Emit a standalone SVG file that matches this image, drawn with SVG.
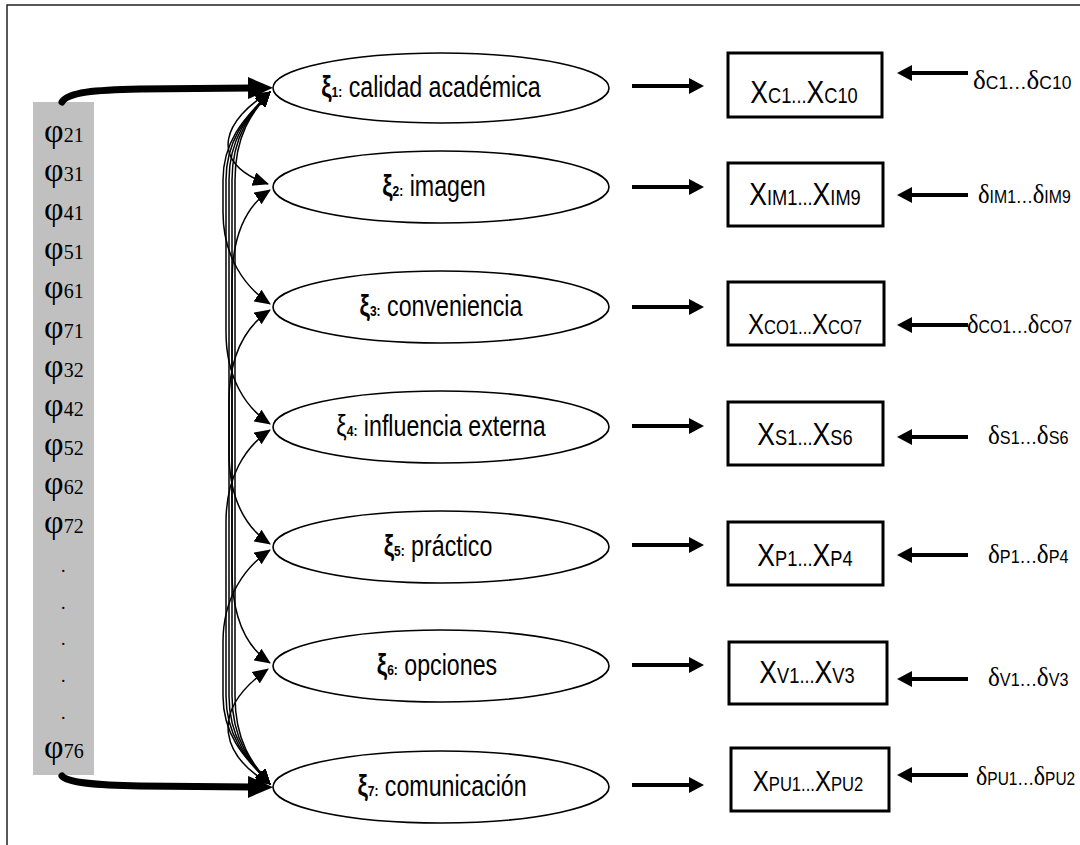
<svg xmlns="http://www.w3.org/2000/svg" width="1080" height="845" viewBox="0 0 1080 845">
<style>
.frame{fill:none;stroke:#222;stroke-width:1.5}
.gray{fill:#c0c0c0}
.ell{fill:#fff;stroke:#000;stroke-width:1.6}
.box{fill:#fff;stroke:#000;stroke-width:3}
.lbl{font-family:"Liberation Sans",Arial,sans-serif;font-size:29px;fill:#000}
.xi{font-weight:bold;font-size:29px}
.xin{font-size:29px}
.xs{font-weight:bold;font-size:15px}
.bx{font-family:"Liberation Sans",Arial,sans-serif;font-size:32px;fill:#000}
.bs{font-size:22px}
.bx2{font-size:29px}
.bs2{font-size:20px}
.del{font-family:"Liberation Serif","Times New Roman",serif;font-size:28px;fill:#000}
.ds{font-family:"Liberation Sans",Arial,sans-serif;font-size:18px}
.dd{font-size:19px}
.phi{font-family:"Liberation Serif","Times New Roman",serif;font-size:34px;fill:#000}
.pd{font-size:20px}
.dot{font-family:"Liberation Serif",serif;font-size:18px;fill:#000}
.curve{fill:none;stroke:#000;stroke-width:1.5;marker-start:url(#ah);marker-end:url(#ah)}
.thick{fill:none;stroke:#000;stroke-width:7;stroke-linecap:round;marker-end:url(#big)}
.arr{fill:none;stroke:#000;stroke-width:4;marker-end:url(#sa)}
</style>
<defs>
<marker id="ah" viewBox="0 0 16 14" refX="15" refY="7" markerWidth="16" markerHeight="14" markerUnits="userSpaceOnUse" orient="auto-start-reverse"><path d="M0,0 L16,7 L0,14 z" fill="#000"/></marker>
<marker id="big" viewBox="0 0 25 22" refX="4" refY="11" markerWidth="25" markerHeight="22" markerUnits="userSpaceOnUse" orient="auto"><path d="M0,0 L25,11 L0,22 z" fill="#000"/></marker>
<marker id="sa" viewBox="0 0 15 16" refX="3" refY="8" markerWidth="15" markerHeight="16" markerUnits="userSpaceOnUse" orient="auto"><path d="M0,0 L15,8 L0,16 z" fill="#000"/></marker>
</defs>
<path class="frame" d="M7,845 V5 H1080"/>

<g id="phi-list">
<rect class="gray" x="33" y="102" width="61" height="673"/>
<text class="phi" x="44" y="142">φ<tspan class="pd">21</tspan></text>
<text class="phi" x="44" y="181">φ<tspan class="pd">31</tspan></text>
<text class="phi" x="44" y="220">φ<tspan class="pd">41</tspan></text>
<text class="phi" x="44" y="259">φ<tspan class="pd">51</tspan></text>
<text class="phi" x="44" y="298">φ<tspan class="pd">61</tspan></text>
<text class="phi" x="44" y="338">φ<tspan class="pd">71</tspan></text>
<text class="phi" x="44" y="377">φ<tspan class="pd">32</tspan></text>
<text class="phi" x="44" y="416">φ<tspan class="pd">42</tspan></text>
<text class="phi" x="44" y="455">φ<tspan class="pd">52</tspan></text>
<text class="phi" x="44" y="494">φ<tspan class="pd">62</tspan></text>
<text class="phi" x="44" y="533">φ<tspan class="pd">72</tspan></text>
<text class="dot" x="61" y="572">.</text>
<text class="dot" x="61" y="609">.</text>
<text class="dot" x="61" y="645">.</text>
<text class="dot" x="61" y="682">.</text>
<text class="dot" x="61" y="719">.</text>
<text class="phi" x="44" y="758">φ<tspan class="pd">76</tspan></text>
</g>

<g id="connectors">
<path class="thick" d="M62,102 C68,92 95,90 140,89 L252,88"/>
<path class="thick" d="M62,776 C68,783 95,785 140,786 L252,787"/>
<path class="curve" d="M270,92 C225,118 205,162 268,184"/>
<path class="curve" d="M270,92 C252,112 223,135 223,180 L223,212 C223,257 245,287 270,304"/>
<path class="curve" d="M270,92 C252,112 226,135 226,180 L226,332 C226,377 245,407 270,424"/>
<path class="curve" d="M270,92 C252,112 229,135 229,180 L229,452 C229,497 245,527 270,544"/>
<path class="curve" d="M270,92 C252,112 232,135 232,180 L232,571 C232,616 245,646 270,663"/>
<path class="curve" d="M270,92 C252,112 235,135 235,180 L235,696 C235,741 252,764 270,784"/>
<path class="curve" d="M270,784 C225,758 205,714 268,669"/>
<path class="curve" d="M270,784 C252,764 223,741 223,696 L223,642 C223,597 245,567 270,550"/>
<path class="curve" d="M270,784 C252,764 226,741 226,696 L226,522 C226,477 245,447 270,430"/>
<path class="curve" d="M270,784 C252,764 229,741 229,696 L229,402 C229,357 245,327 270,310"/>
<path class="curve" d="M270,784 C252,764 232,741 232,696 L232,282 C232,237 245,207 270,190"/>
<path class="arr" d="M632,86 H692"/>
<path class="arr" d="M632,187 H692"/>
<path class="arr" d="M632,307 H692"/>
<path class="arr" d="M632,426 H692"/>
<path class="arr" d="M632,545 H692"/>
<path class="arr" d="M632,665 H692"/>
<path class="arr" d="M632,785 H692"/>
<path class="arr" d="M968,73 H909"/>
<path class="arr" d="M968,195 H909"/>
<path class="arr" d="M968,325 H909"/>
<path class="arr" d="M968,437 H909"/>
<path class="arr" d="M968,555 H909"/>
<path class="arr" d="M968,679 H909"/>
<path class="arr" d="M968,775 H909"/>
</g>

<g id="xi1"><ellipse class="ell" cx="441" cy="88" rx="168" ry="35"/>
<text class="lbl" transform="translate(431,97) scale(0.8 1)" text-anchor="middle"><tspan class="xi">ξ</tspan><tspan class="xs">1:</tspan> calidad académica</text></g>
<g id="xi2"><ellipse class="ell" cx="441" cy="187" rx="168" ry="36"/>
<text class="lbl" transform="translate(434,196) scale(0.8 1)" text-anchor="middle"><tspan class="xi">ξ</tspan><tspan class="xs">2:</tspan> imagen</text></g>
<g id="xi3"><ellipse class="ell" cx="441" cy="307" rx="168" ry="36"/>
<text class="lbl" transform="translate(441,316) scale(0.8 1)" text-anchor="middle"><tspan class="xi">ξ</tspan><tspan class="xs">3:</tspan> conveniencia</text></g>
<g id="xi4"><ellipse class="ell" cx="441" cy="427" rx="168" ry="36"/>
<text class="lbl" transform="translate(441,436) scale(0.8 1)" text-anchor="middle"><tspan class="xin">ξ</tspan><tspan class="xs">4:</tspan> influencia externa</text></g>
<g id="xi5"><ellipse class="ell" cx="441" cy="547" rx="168" ry="36"/>
<text class="lbl" transform="translate(438,556) scale(0.8 1)" text-anchor="middle"><tspan class="xi">ξ</tspan><tspan class="xs">5:</tspan> práctico</text></g>
<g id="xi6"><ellipse class="ell" cx="441" cy="666" rx="168" ry="36"/>
<text class="lbl" transform="translate(437,675) scale(0.8 1)" text-anchor="middle"><tspan class="xi">ξ</tspan><tspan class="xs">6:</tspan> opciones</text></g>
<g id="xi7"><ellipse class="ell" cx="441" cy="787" rx="168" ry="36"/>
<text class="lbl" transform="translate(442,796) scale(0.8 1)" text-anchor="middle"><tspan class="xi">ξ</tspan><tspan class="xs">7:</tspan> comunicación</text></g>

<g id="x1"><rect class="box" x="728" y="53" width="154" height="64"/>
<text class="bx" transform="translate(804,103) scale(0.83 1)" text-anchor="middle">X<tspan class="bs">C1...</tspan>X<tspan class="bs">C10</tspan></text></g>
<g id="x2"><rect class="box" x="728" y="163" width="155" height="63"/>
<text class="bx" transform="translate(805,205) scale(0.83 1)" text-anchor="middle">X<tspan class="bs">IM1...</tspan>X<tspan class="bs">IM9</tspan></text></g>
<g id="x3"><rect class="box" x="728" y="282" width="156" height="63"/>
<text class="bx bx2" transform="translate(805,334) scale(0.83 1)" text-anchor="middle">X<tspan class="bs2">CO1...</tspan>X<tspan class="bs2">CO7</tspan></text></g>
<g id="x4"><rect class="box" x="728" y="402" width="155" height="63"/>
<text class="bx" transform="translate(805,445) scale(0.83 1)" text-anchor="middle">X<tspan class="bs">S1...</tspan>X<tspan class="bs">S6</tspan></text></g>
<g id="x5"><rect class="box" x="728" y="522" width="155" height="63"/>
<text class="bx" transform="translate(805,566) scale(0.83 1)" text-anchor="middle">X<tspan class="bs">P1...</tspan>X<tspan class="bs">P4</tspan></text></g>
<g id="x6"><rect class="box" x="729" y="642" width="158" height="62"/>
<text class="bx" transform="translate(807,683) scale(0.83 1)" text-anchor="middle">X<tspan class="bs">V1...</tspan>X<tspan class="bs">V3</tspan></text></g>
<g id="x7"><rect class="box" x="731" y="748" width="158" height="63"/>
<text class="bx bx2" transform="translate(808,791) scale(0.83 1)" text-anchor="middle">X<tspan class="bs2">PU1...</tspan>X<tspan class="bs2">PU2</tspan></text></g>

<g id="d1"><text class="del" transform="translate(973,89) scale(0.97 1)">δ<tspan class="ds">C1</tspan><tspan class="dd">…</tspan>δ<tspan class="ds">C10</tspan></text></g>
<g id="d2"><text class="del" transform="translate(978,203) scale(0.88 1)">δ<tspan class="ds">IM1</tspan><tspan class="dd">…</tspan>δ<tspan class="ds">IM9</tspan></text></g>
<g id="d3"><text class="del" transform="translate(967,333) scale(0.88 1)">δ<tspan class="ds">CO1</tspan><tspan class="dd">…</tspan>δ<tspan class="ds">CO7</tspan></text></g>
<g id="d4"><text class="del" transform="translate(988,444) scale(0.9 1)">δ<tspan class="ds">S1</tspan><tspan class="dd">…</tspan>δ<tspan class="ds">S6</tspan></text></g>
<g id="d5"><text class="del" transform="translate(988,563) scale(0.9 1)">δ<tspan class="ds">P1</tspan><tspan class="dd">…</tspan>δ<tspan class="ds">P4</tspan></text></g>
<g id="d6"><text class="del" transform="translate(988,686) scale(0.9 1)">δ<tspan class="ds">V1</tspan><tspan class="dd">…</tspan>δ<tspan class="ds">V3</tspan></text></g>
<g id="d7"><text class="del" transform="translate(976,785) scale(0.86 1)">δ<tspan class="ds">PU1</tspan><tspan class="dd">…</tspan>δ<tspan class="ds">PU2</tspan></text></g>
</svg>
